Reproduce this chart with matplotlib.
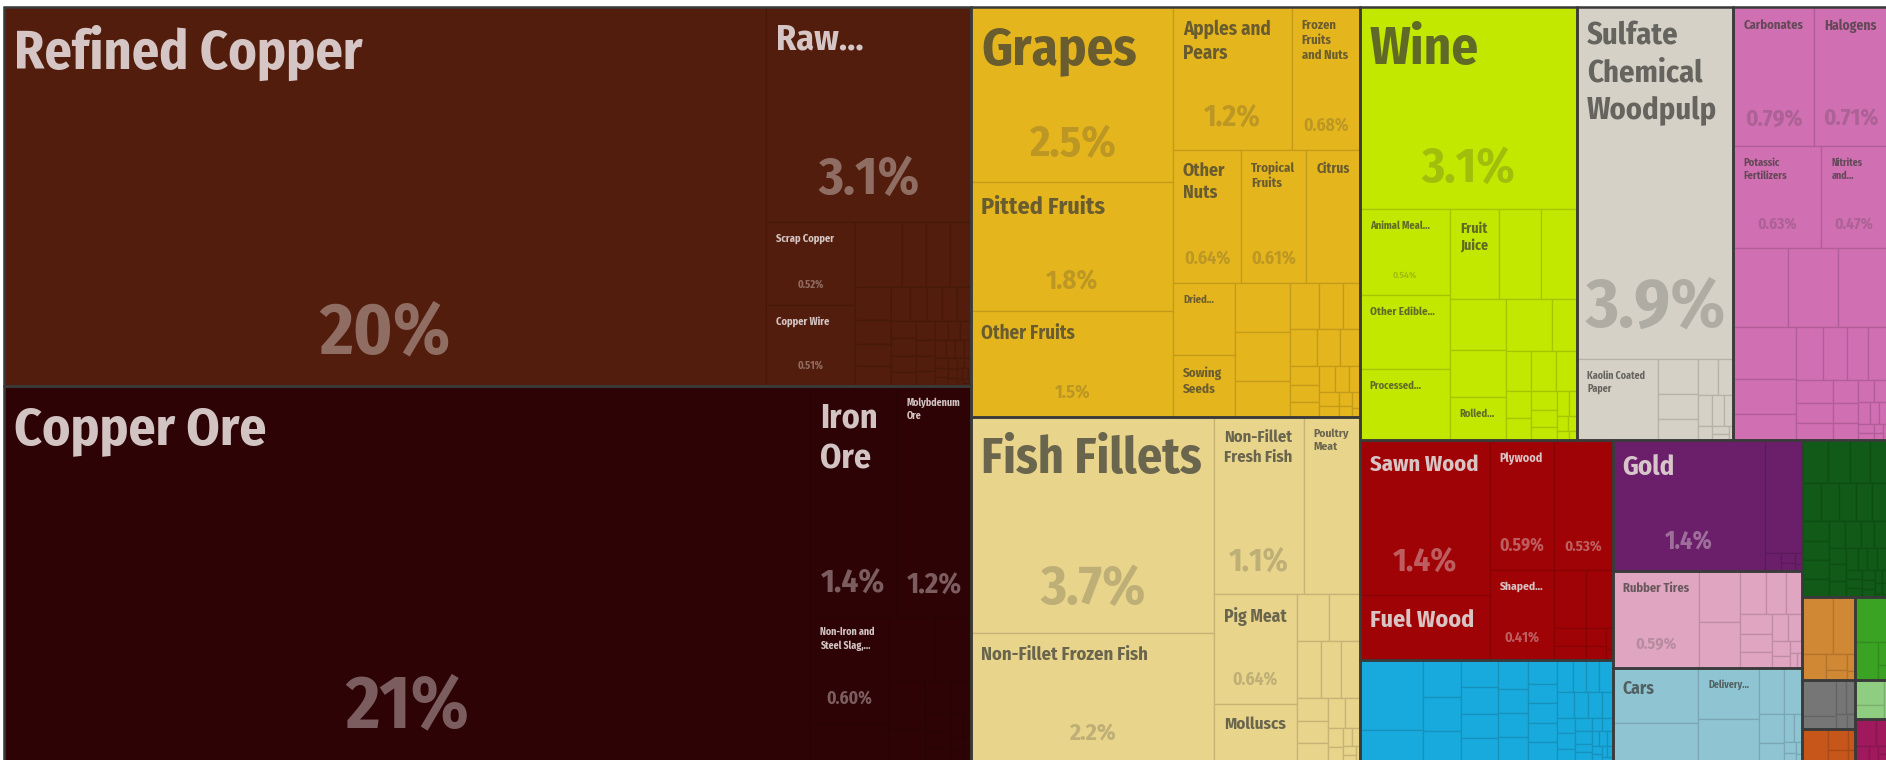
import matplotlib
matplotlib.use('Agg')
import matplotlib.pyplot as plt
from matplotlib.patches import Rectangle
from matplotlib.font_manager import FontProperties, fontManager
from matplotlib.colors import to_rgb

# ---------------- data: share of total exports (%) ----------------
# labelled products first (display names as shown), unlabelled ones after

metals_names = ['Refined Copper', 'Raw...', 'Scrap Copper', 'Copper Wire']
metals_values = [20.3, 3.1, 0.52, 0.51, 0.21, 0.11, 0.11, 0.098, 0.084, 0.06, 0.055,
                 0.05, 0.045, 0.04, 0.038, 0.036, 0.034, 0.03, 0.03, 0.028, 0.025, 0.025,
                 0.022, 0.02, 0.02, 0.018, 0.016, 0.015, 0.014, 0.012, 0.011, 0.01, 0.009,
                 0.008, 0.008, 0.007, 0.006, 0.006, 0.005, 0.005, 0.004, 0.004, 0.003,
                 0.003, 0.002, 0.002]

minerals_names = ['Copper Ore', 'Iron Ore', 'Molybdenum Ore', 'Non-Iron and Steel Slag,...']
minerals_values = [21.2, 1.4, 1.2, 0.60, 0.21, 0.21, 0.165, 0.12, 0.08, 0.06, 0.045,
                   0.035, 0.03, 0.025, 0.02, 0.015, 0.012, 0.01, 0.008, 0.005]

veg_names = ['Grapes', 'Pitted Fruits', 'Other Fruits', 'Apples and Pears',
             'Frozen Fruits and Nuts', 'Other Nuts', 'Tropical Fruits', 'Citrus',
             'Dried...', 'Sowing Seeds']
veg_values = [2.48, 1.82, 1.50, 1.19, 0.68, 0.64, 0.61, 0.50, 0.31, 0.27, 0.19, 0.19,
              0.14, 0.096, 0.076, 0.056, 0.07, 0.06, 0.05, 0.04, 0.035, 0.03, 0.03,
              0.025, 0.02, 0.02, 0.015, 0.012, 0.01, 0.008, 0.005]

animal_names = ['Fish Fillets', 'Non-Fillet Frozen Fish', 'Non-Fillet Fresh Fish',
                'Poultry Meat', 'Pig Meat', 'Molluscs']
animal_values = [3.67, 2.18, 1.12, 0.70, 0.64, 0.33, 0.106, 0.10, 0.098, 0.081, 0.076,
                 0.05, 0.047, 0.04, 0.035, 0.03, 0.02, 0.015, 0.012, 0.01, 0.008, 0.006,
                 0.004]

food_names = ['Wine', 'Animal Meal...', 'Other Edible...', 'Processed...', 'Fruit Juice',
              None, None, None, None, 'Rolled...']
food_values = [3.09, 0.54, 0.47, 0.45, 0.31, 0.26, 0.23, 0.20, 0.185, 0.17, 0.17, 0.09,
               0.07, 0.07, 0.06, 0.05, 0.04, 0.035, 0.03, 0.025, 0.02, 0.015, 0.012,
               0.01, 0.008, 0.005]

paper_names = ['Sulfate Chemical Woodpulp', 'Kaolin Coated Paper']
paper_values = [3.86, 0.46, 0.10, 0.07, 0.06, 0.05, 0.04, 0.03, 0.025, 0.02, 0.015,
                0.01, 0.007, 0.005]

chem_names = ['Carbonates', 'Halogens', 'Potassic Fertilizers', 'Nitrites and...']
chem_values = [0.79, 0.71, 0.63, 0.47, 0.30, 0.28, 0.27, 0.23, 0.154, 0.119, 0.10, 0.089,
               0.08, 0.07, 0.06, 0.05, 0.045, 0.04, 0.035, 0.03, 0.025, 0.02, 0.02,
               0.015, 0.012, 0.01, 0.008, 0.006, 0.005, 0.004]

wood_names = ['Sawn Wood', 'Fuel Wood', 'Plywood', '', 'Shaped...']
wood_values = [1.41, 0.59, 0.59, 0.53, 0.41, 0.13, 0.11, 0.04, 0.03, 0.025, 0.02, 0.01,
               0.005]

machines_names = []
machines_values = [0.31, 0.14, 0.10, 0.09, 0.08, 0.07, 0.07, 0.06, 0.06, 0.06, 0.05, 0.05,
                   0.05, 0.05, 0.04, 0.04, 0.04, 0.04, 0.035, 0.03, 0.03, 0.03, 0.03,
                   0.025, 0.025, 0.02, 0.02, 0.02, 0.015, 0.015, 0.015, 0.01, 0.01, 0.01,
                   0.01, 0.008, 0.008, 0.006, 0.006, 0.005, 0.004, 0.004, 0.003]

gold_names = ['Gold']
gold_values = [1.39, 0.295, 0.02, 0.01, 0.008, 0.005, 0.003]

plastics_names = ['Rubber Tires']
plastics_values = [0.59, 0.148, 0.13, 0.08, 0.059, 0.05, 0.043, 0.04, 0.035, 0.03, 0.025,
                   0.02, 0.015, 0.01, 0.007, 0.005]

transport_names = ['Cars', None, 'Delivery...']
transport_values = [0.33, 0.23, 0.22, 0.18, 0.08, 0.06, 0.05, 0.03, 0.02, 0.015, 0.01,
                    0.007, 0.005, 0.003]

textiles_values = [0.079, 0.067, 0.061, 0.05, 0.049, 0.049, 0.045, 0.04, 0.04, 0.038,
                   0.038, 0.036, 0.035, 0.03, 0.03, 0.025, 0.025, 0.02, 0.02, 0.02, 0.017,
                   0.015, 0.015, 0.015, 0.01, 0.01, 0.01, 0.01, 0.008, 0.008, 0.006,
                   0.005, 0.005, 0.004, 0.003]
hides_values = [0.125, 0.084, 0.044, 0.024, 0.015, 0.01, 0.005]
footwear_values = [0.10, 0.063, 0.015, 0.01]
instruments_values = [0.085, 0.03, 0.025, 0.02, 0.012, 0.008]
misc_values = [0.06, 0.03, 0.015, 0.01, 0.005]
stone_values = [0.05, 0.03, 0.008]
arts_values = [0.04, 0.02, 0.015, 0.01, 0.005, 0.004]

sections = ['Metals', 'Mineral Products', 'Vegetable Products', 'Animal Products',
            'Foodstuffs', 'Paper Goods', 'Chemical Products', 'Wood Products', 'Machines',
            'Precious Metals', 'Plastics and Rubbers', 'Transportation', 'Textiles',
            'Animal Hides', 'Footwear and Headwear', 'Instruments', 'Miscellaneous',
            'Stone and Glass', 'Arts and Antiques']
section_colors = ['#521d0c', '#2e0305', '#e5b51e', '#e8d48b', '#c2e800', '#d5d1c6',
                  '#d06fb2', '#a00306', '#19aadd', '#6b1f6b', '#e0a6c1', '#8fc5d3',
                  '#115a17', '#d18834', '#3ba324', '#767676', '#c6561a', '#8fce80',
                  '#a0195c']

# ---------------- label styling ----------------
# name: (name font px, share font px); 0 = not shown
LABEL_PX = {
    'Refined Copper': (54, 73), 'Raw...': (36, 53), 'Scrap Copper': (10.5, 10.5),
    'Copper Wire': (10.5, 10.5), 'Copper Ore': (53.5, 74), 'Iron Ore': (34, 33),
    'Molybdenum Ore': (11, 29), 'Non-Iron and Steel Slag,...': (10, 17.5),
    'Grapes': (53, 44), 'Pitted Fruits': (24, 26.5), 'Other Fruits': (19, 18.5),
    'Apples and Pears': (19, 30), 'Frozen Fruits and Nuts': (15, 17.5),
    'Other Nuts': (18, 18), 'Tropical Fruits': (15, 18), 'Citrus': (16, 0),
    'Dried...': (10.5, 0), 'Sowing Seeds': (13, 0),
    'Fish Fillets': (50, 55), 'Non-Fillet Frozen Fish': (18.5, 24),
    'Non-Fillet Fresh Fish': (21, 32), 'Poultry Meat': (12, 0), 'Pig Meat': (22, 17.5),
    'Molluscs': (18.5, 0),
    'Wine': (53, 49), 'Animal Meal...': (10.5, 9.5), 'Other Edible...': (11, 0),
    'Processed...': (10.5, 0), 'Fruit Juice': (15.5, 0), 'Rolled...': (12.5, 0),
    'Sulfate Chemical Woodpulp': (30.5, 70), 'Kaolin Coated Paper': (13.5, 0),
    'Carbonates': (17.5, 23), 'Halogens': (17, 23), 'Potassic Fertilizers': (10.5, 15.5),
    'Nitrites and...': (10, 15.5),
    'Sawn Wood': (29, 33), 'Fuel Wood': (24, 0), 'Plywood': (18, 17.5), '': (0, 15),
    'Shaped...': (12.5, 14), 'Gold': (27, 24.5), 'Rubber Tires': (14, 16),
    'Cars': (17.5, 0), 'Delivery...': (12.5, 0),
}
# line breaks as they appear in the boxes
WRAPPED = {
    'Iron Ore': 'Iron\nOre', 'Molybdenum Ore': 'Molybdenum\nOre',
    'Non-Iron and Steel Slag,...': 'Non-Iron and\nSteel Slag,...',
    'Apples and Pears': 'Apples and\nPears', 'Frozen Fruits and Nuts': 'Frozen\nFruits\nand Nuts',
    'Other Nuts': 'Other\nNuts', 'Tropical Fruits': 'Tropical\nFruits',
    'Sowing Seeds': 'Sowing\nSeeds', 'Non-Fillet Fresh Fish': 'Non-Fillet\nFresh Fish',
    'Poultry Meat': 'Poultry\nMeat', 'Fruit Juice': 'Fruit\nJuice',
    'Sulfate Chemical Woodpulp': 'Sulfate\nChemical\nWoodpulp',
    'Kaolin Coated Paper': 'Kaolin Coated\nPaper', 'Potassic Fertilizers': 'Potassic\nFertilizers',
    'Nitrites and...': 'Nitrites\nand...',
}

section_names = [metals_names, minerals_names, veg_names, animal_names, food_names,
                 paper_names, chem_names, wood_names, machines_names, gold_names,
                 plastics_names, transport_names, [], [], [], [], [], [], []]
section_values = [metals_values, minerals_values, veg_values, animal_values, food_values,
                  paper_values, chem_values, wood_values, machines_values, gold_values,
                  plastics_values, transport_values, textiles_values, hides_values,
                  footwear_values, instruments_values, misc_values, stone_values,
                  arts_values]

FIG_W, FIG_H, DPI = 1886, 760, 100
X0, Y0, X1, Y1 = 4, 7, 1887, 761   # treemap area in pixels
YSCALE = 0.82                      # aspect used when choosing row orientation
PHI = (1 + 5 ** 0.5) / 2
PAD_X = 10
BORDER = '#3a3a3a'

_installed = {f.name for f in fontManager.ttflist}
FONT = next(f for f in ['Fira Sans Condensed', 'Fira Sans Extra Condensed', 'Roboto Condensed',
                        'Liberation Sans Narrow', 'Open Sans Condensed', 'Roboto',
                        'Open Sans', 'Noto Sans', 'DejaVu Sans'] if f in _installed)


def squarify(values, x0, y0, x1, y1):
    # squarified treemap (d3 style), keeps the given order
    rects = []
    total = float(sum(values))
    i0, n = 0, len(values)
    while i0 < n:
        dx, dy = x1 - x0, (y1 - y0) * YSCALE
        s = mn = mx = values[i0]
        i1 = i0 + 1
        alpha = max(dy / dx, dx / dy) / (total * PHI)
        beta = s * s * alpha
        best = max(mx / beta, beta / mn)
        while i1 < n:
            v = values[i1]
            beta = (s + v) ** 2 * alpha
            r = max(max(mx, v) / beta, beta / min(mn, v))
            if r > best:
                break
            s, mn, mx, best = s + v, min(mn, v), max(mx, v), r
            i1 += 1
        if dx < dy:   # row along the top
            h = (y1 - y0) * s / total if i1 < n else (y1 - y0)
            xx = x0
            for v in values[i0:i1]:
                w = (x1 - x0) * v / s
                rects.append((xx, y0, w, h))
                xx += w
            y0 += h
        else:         # column on the left
            w = (x1 - x0) * s / total if i1 < n else (x1 - x0)
            yy = y0
            for v in values[i0:i1]:
                h = (y1 - y0) * v / s
                rects.append((x0, yy, w, h))
                yy += h
            x0 += w
        total -= s
        i0 = i1
    return rects


def share_label(v):
    return f'{v:#.2g}'.rstrip('.') + '%'


fig = plt.figure(figsize=(FIG_W / DPI, FIG_H / DPI), dpi=DPI)
ax = fig.add_axes([0, 0, 1, 1])
ax.set_xlim(0, FIG_W)
ax.set_ylim(FIG_H, 0)
ax.axis('off')
renderer = fig.canvas.get_renderer()


def text_width(s, px):
    fp = FontProperties(family=FONT, weight='bold', stretch='condensed', size=px * 72 / DPI)
    return renderer.get_text_width_height_descent(s, fp, ismath=False)[0]


def fit(text, px, maxw):
    while px > 5 and max(text_width(t, px) for t in text.split('\n')) > maxw:
        px -= 0.5
    return px


totals = [sum(v) for v in section_values]
section_rects = squarify(totals, X0, Y0, X1, Y1)

for gi, (gx, gy, gw, gh) in enumerate(section_rects):
    color = section_colors[gi]
    rgb = to_rgb(color)
    edge = tuple(c * 0.85 for c in rgb)
    dark_bg = (0.299 * rgb[0] + 0.587 * rgb[1] + 0.114 * rgb[2]) < 0.4
    cells = squarify(section_values[gi], gx, gy, gx + gw, gy + gh)
    for (cx, cy, cw, ch) in cells:
        ax.add_patch(Rectangle((cx, cy), cw, ch, facecolor=color, edgecolor=edge,
                               linewidth=0.9, zorder=1))

    name_color, name_alpha = ('#ddd0d0', 0.95) if dark_bg else ('#3a3a36', 0.72)
    pct_color, pct_alpha = ('#e6dcdc', 0.42) if dark_bg else ('#3a3a36', 0.24)
    for k, name in enumerate(section_names[gi]):
        if name is None:
            continue
        cx, cy, cw, ch = cells[k]
        npx, ppx = LABEL_PX[name]
        if name and npx:
            disp = WRAPPED.get(name, name)
            size = fit(disp, npx, cw - 2 * PAD_X)
            ax.text(cx + PAD_X, cy + 10 + 0.15 * size, disp, ha='left', va='top',
                    fontsize=size * 72 / DPI, fontweight='bold', family=FONT,
                    fontstretch='condensed', color=name_color, alpha=name_alpha,
                    linespacing=1.3, zorder=5)
        if ppx:
            lbl = share_label(section_values[gi][k])
            size = fit(lbl, ppx, cw - 8)
            ax.text(cx + cw / 2, cy + ch - (0.25 * size + 15), lbl, ha='center',
                    va='baseline', fontsize=size * 72 / DPI, fontweight='bold',
                    family=FONT, fontstretch='condensed', color=pct_color,
                    alpha=pct_alpha, zorder=5)

for (gx, gy, gw, gh) in section_rects:
    ax.add_patch(Rectangle((gx, gy), gw, gh, fill=False, edgecolor=BORDER,
                           linewidth=1.8, zorder=3))

fig.savefig('out.png', dpi=DPI, facecolor='white')
